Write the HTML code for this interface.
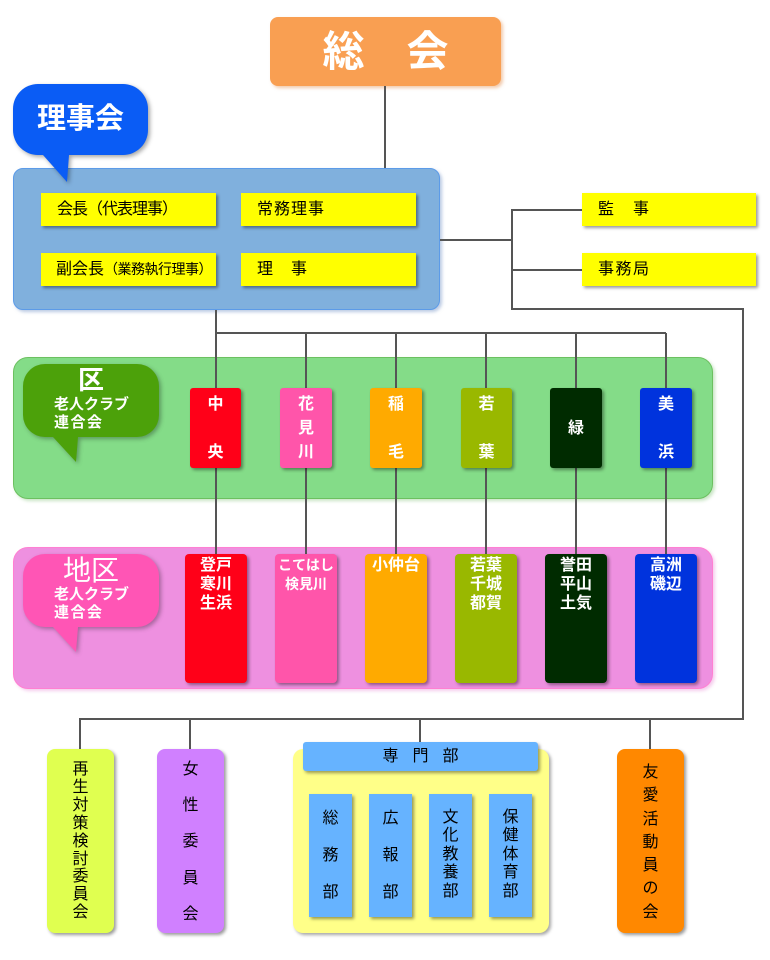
<!DOCTYPE html>
<html><head><meta charset="utf-8">
<style>
*{margin:0;padding:0;box-sizing:border-box}
body{width:770px;height:960px;background:#fff;position:relative;overflow:hidden;font-family:"Liberation Sans","Noto Sans CJK JP",sans-serif;color:#000}
.a{position:absolute}
.sh{box-shadow:2px 2px 3px rgba(0,0,0,0.4)}
.y{background:#ffff00;height:33px;line-height:33px;font-size:16px;padding-left:16px;white-space:nowrap}
.w{color:#fff;font-weight:bold;text-align:center;font-size:16px}
.v{text-align:center;font-size:16px;position:absolute;left:0;width:100%}
svg{position:absolute;left:0;top:0}
</style></head><body>

<!-- containers -->
<div class="a" style="left:270px;top:17px;width:231px;height:69px;background:#f99f52;border-radius:8px;box-shadow:2px 2px 3px rgba(230,150,90,0.5)"></div>
<div class="a" style="left:270px;top:17px;width:231px;height:69px;line-height:69px;text-align:center;color:#fff;font-weight:bold;font-size:42px;letter-spacing:0">総　会</div>

<div class="a" style="left:13px;top:168px;width:427px;height:142px;background:#80b0dd;border:1px solid #5c9be8;border-radius:10px;box-shadow:2px 2px 3px rgba(120,150,200,0.5)"></div>

<div class="a" style="left:13px;top:357px;width:700px;height:142px;background:#84dc88;border:1px solid #6cc060;border-radius:15px;box-shadow:2px 2px 3px rgba(120,190,110,0.4)"></div>

<div class="a" style="left:13px;top:547px;width:700px;height:142px;background:#ee90e0;border:1px solid #ff80d2;border-radius:15px;box-shadow:2px 2px 3px rgba(230,130,210,0.4)"></div>

<div class="a" style="left:293px;top:749px;width:256px;height:184px;background:#ffff88;border-radius:10px;box-shadow:2px 2px 3px rgba(0,0,0,0.35)"></div>

<!-- lines -->
<svg width="770" height="960" viewBox="0 0 770 960">
<g stroke="#555" stroke-width="2" fill="none">
<line x1="385" y1="86" x2="385" y2="168"/>
<line x1="440" y1="240" x2="512" y2="240"/>
<polyline points="582,210 512,210 512,309 743,309 743,719 80,719 80,749"/>
<line x1="512" y1="270" x2="582" y2="270"/>
<line x1="190" y1="719" x2="190" y2="749"/>
<line x1="420" y1="719" x2="420" y2="742"/>
<line x1="650" y1="719" x2="650" y2="749"/>
<line x1="216" y1="310" x2="216" y2="554"/>
<line x1="216" y1="333" x2="666" y2="333"/>
<line x1="306" y1="333" x2="306" y2="554"/>
<line x1="396" y1="333" x2="396" y2="554"/>
<line x1="486" y1="333" x2="486" y2="554"/>
<line x1="576" y1="333" x2="576" y2="554"/>
<line x1="666" y1="333" x2="666" y2="554"/>
</g>
<!-- bubbles -->
<g>
<path d="M38,84 H123 A25,25 0 0 1 148,109 V130 A25,25 0 0 1 123,155 H69 L67,182 L43,155 H38 A25,25 0 0 1 13,130 V109 A25,25 0 0 1 38,84 Z" fill="#0a5cf5" style="filter:drop-shadow(2px 2px 2px rgba(0,0,0,0.35))"/>
<path d="M45,364 H137 A22,22 0 0 1 159,386 V415 A22,22 0 0 1 137,437 H78 L76,462 L53,437 H45 A22,22 0 0 1 23,415 V386 A22,22 0 0 1 45,364 Z" fill="#4ca10a" style="filter:drop-shadow(2px 2px 2px rgba(0,0,0,0.3))"/>
<path d="M45,554 H137 A22,22 0 0 1 159,576 V605 A22,22 0 0 1 137,627 H78 L76,652 L53,627 H45 A22,22 0 0 1 23,605 V576 A22,22 0 0 1 45,554 Z" fill="#ff55b5" style="filter:drop-shadow(2px 2px 2px rgba(0,0,0,0.3))"/>
</g>
</svg>

<!-- bubble texts -->
<div class="a" style="left:13px;top:101px;width:135px;text-align:center;color:#fff;font-weight:bold;font-size:29px;line-height:36px">理事会</div>
<div class="a" style="left:76px;top:365px;width:30px;text-align:center;color:#fff;font-weight:bold;font-size:26px;line-height:30px">区</div>
<div class="a" style="left:54px;top:396px;color:#fff;font-weight:bold;font-size:15px;line-height:18px;white-space:nowrap">老人クラブ<br><span style="letter-spacing:1.5px">連合会</span></div>
<div class="a" style="left:63px;top:555px;color:#fff;font-size:28px;line-height:32px;white-space:nowrap">地区</div>
<div class="a" style="left:54px;top:586px;color:#fff;font-weight:bold;font-size:15px;line-height:18px;white-space:nowrap">老人クラブ<br><span style="letter-spacing:1.5px">連合会</span></div>

<!-- yellow boxes -->
<div class="a y sh" style="left:41px;top:193px;width:175px;letter-spacing:-1px">会長（代表理事）</div>
<div class="a y sh" style="left:241px;top:193px;width:175px;letter-spacing:1px">常務理事</div>
<div class="a y sh" style="left:41px;top:253px;width:175px;padding-left:15px">副会長<span style="font-size:14px;letter-spacing:-0.5px">（業務執行理事）</span></div>
<div class="a y sh" style="left:241px;top:253px;width:175px;letter-spacing:1px">理　事</div>
<div class="a y sh" style="left:582px;top:193px;width:174px;letter-spacing:1.5px">監　事</div>
<div class="a y sh" style="left:582px;top:253px;width:174px;letter-spacing:1.5px">事務局</div>

<!-- ward boxes -->
<div class="a sh w" style="left:190px;top:388px;width:51px;height:80px;background:#ff0018;border-radius:3px;line-height:24px;padding-top:5px">中<br>&nbsp;<br>央</div>
<div class="a sh w" style="left:280px;top:388px;width:52px;height:80px;background:#ff55aa;border-radius:3px;line-height:24px;padding-top:5px">花<br>見<br>川</div>
<div class="a sh w" style="left:370px;top:388px;width:52px;height:80px;background:#ffaa00;border-radius:3px;line-height:24px;padding-top:5px">稲<br>&nbsp;<br>毛</div>
<div class="a sh w" style="left:461px;top:388px;width:51px;height:80px;background:#99b800;border-radius:3px;line-height:24px;padding-top:5px">若<br>&nbsp;<br>葉</div>
<div class="a sh w" style="left:550px;top:388px;width:52px;height:80px;background:#002b00;border-radius:3px;line-height:24px;padding-top:29px">緑</div>
<div class="a sh w" style="left:640px;top:388px;width:52px;height:80px;background:#0033dd;border-radius:3px;line-height:24px;padding-top:5px">美<br>&nbsp;<br>浜</div>

<!-- district boxes -->
<div class="a sh w" style="left:185px;top:554px;width:62px;height:129px;background:#ff0018;border-radius:4px;line-height:19px;padding-top:2px">登戸<br>寒川<br>生浜</div>
<div class="a sh w" style="left:275px;top:554px;width:62px;height:129px;background:#ff55aa;border-radius:4px;line-height:19px;padding-top:2px;font-size:14px">こてはし<br>検見川</div>
<div class="a sh w" style="left:365px;top:554px;width:62px;height:129px;background:#ffaa00;border-radius:4px;line-height:19px;padding-top:2px">小仲台</div>
<div class="a sh w" style="left:455px;top:554px;width:62px;height:129px;background:#99b800;border-radius:4px;line-height:19px;padding-top:2px">若葉<br>千城<br>都賀</div>
<div class="a sh w" style="left:545px;top:554px;width:62px;height:129px;background:#002b00;border-radius:4px;line-height:19px;padding-top:2px">誉田<br>平山<br>土気</div>
<div class="a sh w" style="left:635px;top:554px;width:62px;height:129px;background:#0033dd;border-radius:4px;line-height:19px;padding-top:2px">高洲<br>磯辺</div>

<!-- bottom boxes -->
<div class="a sh" style="left:47px;top:749px;width:67px;height:184px;background:#e0ff50;border-radius:8px">
 <div class="v" style="top:12px;line-height:17.9px">再<br>生<br>対<br>策<br>検<br>討<br>委<br>員<br>会</div>
</div>
<div class="a sh" style="left:157px;top:749px;width:67px;height:184px;background:#d080ff;border-radius:8px">
 <div class="v" style="top:3px;line-height:36.2px">女<br>性<br>委<br>員<br>会</div>
</div>
<div class="a sh" style="left:617px;top:749px;width:67px;height:184px;background:#ff8800;border-radius:8px">
 <div class="v" style="top:12px;line-height:23.3px">友<br>愛<br>活<br>動<br>員<br>の<br>会</div>
</div>

<!-- 専門部 -->
<div class="a sh" style="left:303px;top:742px;width:235px;height:29px;background:#66b3ff;border-radius:3px;line-height:29px;text-align:center;font-size:16px;letter-spacing:14px;padding-left:14px">専門部</div>
<div class="a sh" style="left:309px;top:794px;width:43px;height:123px;background:#66b3ff">
 <div class="v" style="top:5.5px;line-height:37px">総<br>務<br>部</div>
</div>
<div class="a sh" style="left:369px;top:794px;width:43px;height:123px;background:#66b3ff">
 <div class="v" style="top:5.5px;line-height:37px">広<br>報<br>部</div>
</div>
<div class="a sh" style="left:429px;top:794px;width:43px;height:123px;background:#66b3ff">
 <div class="v" style="top:14.75px;line-height:18.5px">文<br>化<br>教<br>養<br>部</div>
</div>
<div class="a sh" style="left:489px;top:794px;width:43px;height:123px;background:#66b3ff">
 <div class="v" style="top:14.75px;line-height:18.5px">保<br>健<br>体<br>育<br>部</div>
</div>

</body></html>
